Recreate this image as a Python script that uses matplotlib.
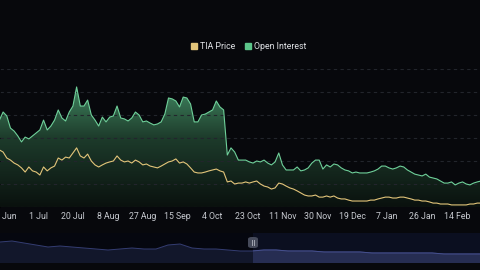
import numpy as np
import matplotlib
matplotlib.use('Agg')
import matplotlib.pyplot as plt
import matplotlib.dates as mdates
from matplotlib.colors import LinearSegmentedColormap
from matplotlib.lines import Line2D
from matplotlib.patches import PathPatch, Rectangle, FancyBboxPatch

# main window: one point every 2 days, 10 Jun 2024 -> 27 Feb 2025
dates = np.datetime64('2024-06-10') + np.arange(132) * 2

# open interest ($M)
open_interest = [
    378, 413, 396, 343, 330, 309, 283, 304, 296, 309, 322, 335, 378, 335, 352, 378,
    422, 387, 374, 413, 439, 522, 439, 439, 465, 400, 378, 352, 391, 370, 391, 396,
    439, 387, 383, 374, 387, 413, 400, 370, 374, 365, 357, 361, 370, 404, 474, 470,
    461, 435, 478, 474, 448, 370, 370, 400, 404, 413, 422, 461, 435, 422, 226, 257,
    239, 204, 204, 204, 196, 191, 200, 196, 204, 191, 183, 196, 235, 183, 161, 161,
    161, 174, 157, 161, 170, 191, 204, 204, 165, 183, 174, 187, 183, 170, 161, 157,
    148, 152, 148, 148, 148, 152, 157, 165, 178, 178, 170, 165, 170, 178, 174, 161,
    152, 143, 139, 135, 143, 130, 126, 122, 113, 104, 104, 109, 96, 104, 109, 100,
    96, 104, 109, 113,
]

# TIA price ($)
tia_price = [
    4.48, 4.39, 4.13, 4.04, 3.91, 3.83, 3.70, 3.52, 3.74, 3.57, 3.52, 3.39, 3.74, 3.57, 3.70, 3.78,
    4.13, 4.04, 4.17, 4.13, 4.35, 4.57, 4.22, 4.13, 4.30, 4.00, 3.83, 3.74, 3.83, 3.91, 3.96, 4.00,
    4.22, 4.04, 3.96, 4.00, 3.91, 4.04, 3.96, 3.83, 3.87, 3.78, 3.74, 3.70, 3.78, 3.87, 3.96, 4.00,
    4.09, 3.91, 3.96, 3.87, 3.70, 3.52, 3.48, 3.48, 3.52, 3.57, 3.61, 3.65, 3.57, 3.52, 3.09, 3.13,
    3.00, 3.04, 3.04, 3.09, 3.04, 3.09, 3.13, 3.00, 2.91, 2.87, 2.78, 2.83, 3.04, 3.00, 2.91, 2.83,
    2.78, 2.70, 2.61, 2.52, 2.48, 2.48, 2.52, 2.43, 2.43, 2.48, 2.43, 2.48, 2.39, 2.35, 2.35, 2.30,
    2.26, 2.26, 2.26, 2.26, 2.26, 2.30, 2.30, 2.35, 2.39, 2.43, 2.43, 2.39, 2.39, 2.43, 2.43, 2.39,
    2.35, 2.30, 2.30, 2.26, 2.26, 2.22, 2.17, 2.17, 2.13, 2.13, 2.13, 2.09, 2.09, 2.09, 2.09, 2.09,
    2.13, 2.13, 2.17, 2.17,
]

tick_dates = np.datetime64('2024-06-12') + np.arange(14) * 19

# slider overview (full history, every 12 days)
mini_dates = np.datetime64('2023-11-01') + np.arange(41) * 12
mini_oi = [
    420, 440, 400, 360, 320, 340, 320, 300, 280, 260, 280, 300, 280, 280, 360, 380,
    300, 280, 280, 260, 240, 240, 260, 260, 240, 240, 240, 220, 220, 220, 220, 200,
    200, 200, 200, 200, 200, 180, 180, 180, 180,
]
window_start = np.datetime64('2024-07-11')

bg = '#07080c'
oi_line = '#6fd09a'
price_line = '#e3c57a'
label_col = '#c6c9cf'
font = ['Roboto', 'DejaVu Sans']
plt.rcParams['font.family'] = font

fig = plt.figure(figsize=(4.8, 2.7), dpi=100)
fig.patch.set_facecolor(bg)

ax = fig.add_axes([0, 63 / 270, 1, 138 / 270])
ax.set_facecolor('none')
x_left = mdates.date2num(np.datetime64('2024-06-12')) - 1.69
x_right = mdates.date2num(np.datetime64('2024-06-12')) + 259.5
ax.set_xlim(x_left, x_right)
ax.set_ylim(0, 600)

xs = mdates.date2num(dates)
oi = np.array(open_interest)

# gradient area under open interest
cmap = LinearSegmentedColormap.from_list('oi', ['#0a110e', '#1d3b2b', '#4c9e71'])
grad = np.linspace(0, 1, 256).reshape(-1, 1)
im = ax.imshow(grad, aspect='auto', cmap=cmap, origin='lower',
               extent=[x_left, x_right, 0, 600], zorder=1)
area = ax.fill_between(xs, oi, 0, color='none', linewidth=0)
clip = PathPatch(area.get_paths()[0], transform=ax.transData,
                 facecolor='none', edgecolor='none')
ax.add_patch(clip)
im.set_clip_path(clip)
ax.plot(xs, oi, color=oi_line, linewidth=0.8, zorder=3)

ax.set_yticks(range(0, 601, 100))
ax.grid(axis='y', color='#22252c', linestyle=(0, (3, 3)), linewidth=0.8, zorder=0)
ax.set_xticks(mdates.date2num(tick_dates))
ax.set_xticklabels([mdates.num2date(mdates.date2num(d)).strftime('%-d %b') for d in tick_dates])
ax.tick_params(axis='x', length=0, pad=3.5, labelsize=6.3, labelcolor=label_col)
ax.tick_params(axis='y', left=False, labelleft=False)
for s in ax.spines.values():
    s.set_visible(False)

ax2 = ax.twinx()
ax2.set_ylim(2.0, 8.0)
ax2.plot(xs, tia_price, color=price_line, linewidth=0.8, zorder=4)
ax2.set_yticks([])
for s in ax2.spines.values():
    s.set_visible(False)

handles = [
    Line2D([], [], marker='s', linestyle='', color='#e3c57a', markersize=4.5, label='TIA Price'),
    Line2D([], [], marker='s', linestyle='', color='#5cc58a', markersize=4.5, label='Open Interest'),
]
fig.legend(handles=handles, loc='center', bbox_to_anchor=(0.517, 0.826), ncol=2,
           frameon=False, fontsize=6.3, labelcolor='#dfe1e5', handletextpad=0.2,
           columnspacing=1.0, handlelength=1.0)

# data-zoom slider
axs = fig.add_axes([0, 7 / 270, 1, 30 / 270])
axs.set_facecolor('#05070f')
mx = mdates.date2num(mini_dates)
axs.set_xlim(mx[0], mx[-1])
axs.set_ylim(0, 600)
ws = mdates.date2num(window_start)
axs.add_patch(Rectangle((ws, 0), mx[-1] - ws, 600, facecolor='#0b0f20', edgecolor='none', zorder=0))
axs.fill_between(mx, mini_oi, 0, color='#12172b', linewidth=0, zorder=1)
axs.plot(mx, mini_oi, color='#343d72', linewidth=0.7, zorder=2)
sel = axs.fill_between(mx, mini_oi, 0, color='#262d52', linewidth=0, zorder=3)
sel.set_clip_path(Rectangle((ws, 0), mx[-1] - ws, 600, transform=axs.transData))
sel_line, = axs.plot(mx, mini_oi, color='#46508e', linewidth=0.7, zorder=4)
sel_line.set_clip_path(Rectangle((ws, 0), mx[-1] - ws, 600, transform=axs.transData))
axs.set_xticks([])
axs.set_yticks([])
for s in axs.spines.values():
    s.set_visible(False)

# slider handle
fig.add_artist(FancyBboxPatch((248 / 480, 22 / 270), 10 / 480, 11 / 270,
                              boxstyle='round,pad=0,rounding_size=0.008',
                              transform=fig.transFigure, facecolor='#454a5a',
                              edgecolor='none', zorder=10))
for hx in (251.5, 254.5):
    fig.add_artist(Line2D([hx / 480, hx / 480], [25 / 270, 30 / 270], color='#a0a4b0',
                          linewidth=0.7, transform=fig.transFigure, zorder=11))

fig.savefig('out.png', dpi=100, facecolor=bg)
